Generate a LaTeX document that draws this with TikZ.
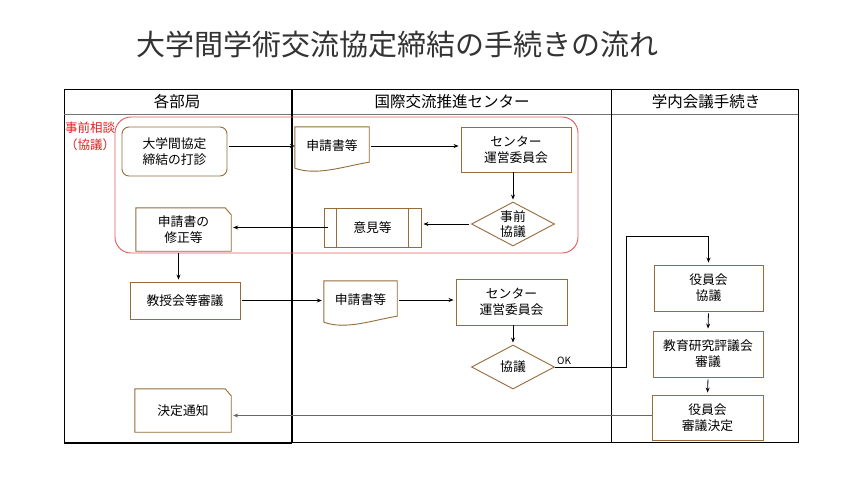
\documentclass[tikz,border=0pt]{standalone}
\usepackage{fontspec}
\newfontfamily\cjk{Noto Sans CJK JP}
\usetikzlibrary{arrows.meta,shapes.geometric,calc}
\definecolor{brd}{RGB}{150,108,58}
\definecolor{redl}{RGB}{228,90,90}
\definecolor{redt}{RGB}{228,30,30}
\begin{document}
\begin{tikzpicture}[x=1pt,y=-1pt,
  txt/.style={font=\cjk\fontsize{12.8}{16}\selectfont, align=center, text=black},
  box/.style={txt, draw=brd, line width=0.9pt, inner sep=0pt},
  plain/.style={txt, draw=none, inner sep=0pt},
  dia/.style={shape=diamond, draw=brd, line width=0.9pt, inner sep=0pt, minimum width=83pt, minimum height=44pt},
  conn/.style={line width=0.8pt, -{Stealth[length=5pt,width=4pt]}, shorten >=2pt, shorten <=2pt},
  hdr/.style={font=\cjk\fontsize{15.5}{18}\selectfont, text=black},
  shp/.style={draw=brd, line width=0.9pt},
  lane/.style={draw=black, line width=0.8pt}
]
\fill[white] (0,0) rectangle (842,487);
\useasboundingbox (0,0) rectangle (842,487);

% title
\node[font=\cjk\fontsize{29}{32}\selectfont, text=black!80] (title) at (397,44) {大学間学術交流協定締結の手続きの流れ};

% swimlanes
\draw[lane] (64,89) rectangle (798,442);
\draw[draw=black!55, line width=0.8pt] (64,114) -- (798,114);
\draw[line width=1.8pt] (292,89) -- (292,443);
\draw[lane, line width=1.4pt] (64,443) -- (292,443);
\draw[lane] (611,89) -- (611,442);
\node[hdr] (h1) at (177,102) {各部局};
\node[hdr] (h2) at (452,102) {国際交流推進センター};
\node[hdr] (h3) at (706,102) {学内会議手続き};

% pre-consultation area
\draw[draw=redl, line width=0.9pt, rounded corners=16pt] (115,117) rectangle (578,253);
\node[font=\cjk\fontsize{12.5}{17}\selectfont, text=redt, align=left, anchor=north west, inner sep=0pt] (pre) at (65,122) {事前相談\\（協議）};

% lane 1 nodes
\node[box, rounded corners=7pt, minimum width=105, minimum height=49] (dashin) at (174.5,151.5) {大学間協定\\締結の打診};
\node[plain, minimum width=95, minimum height=43] (shusei) at (183.5,229.5) {申請書の\\修正等};
\draw[shp] (shusei.south west) -- (shusei.north west) -- ($(shusei.north east)+(-6,0)$) -- ($(shusei.north east)+(0,7)$) -- (shusei.south east) -- cycle;
\node[box, minimum width=110, minimum height=37] (kyoju) at (185,300.5) {教授会等審議};
\node[plain, minimum width=96, minimum height=43] (kettei) at (183,410.5) {決定通知};
\draw[shp] (kettei.south west) -- (kettei.north west) -- ($(kettei.north east)+(-6,0)$) -- ($(kettei.north east)+(0,7)$) -- (kettei.south east) -- cycle;

% lane 2 nodes
\node[plain, minimum width=74, minimum height=38] (doc1) at (332,146) {申請書等};
\draw[shp] ($(doc1.south west)+(0,3)$) -- (doc1.north west) -- (doc1.north east) -- ($(doc1.south east)+(0,-3)$) .. controls +(-25,4) and +(22,8) .. ($(doc1.south west)+(0,3)$);
\node[box, minimum width=110, minimum height=45] (c1) at (516,149.5) {センター\\運営委員会};
\node[dia, label={[txt, inner sep=0pt, font=\cjk\fontsize{12.8}{15}\selectfont]center:{事前\\協議}}] (jz) at (513,224) {};
\node[box, minimum width=97, minimum height=39] (ik) at (372.5,227.5) {意見等};
\draw[shp] ($(ik.north west)+(13,0)$) -- ($(ik.south west)+(13,0)$);
\draw[shp] ($(ik.north east)+(-13,0)$) -- ($(ik.south east)+(-13,0)$);
\node[plain, minimum width=73, minimum height=38] (doc2) at (360.5,300) {申請書等};
\draw[shp] ($(doc2.south west)+(0,3)$) -- (doc2.north west) -- (doc2.north east) -- ($(doc2.south east)+(0,-3)$) .. controls +(-25,4) and +(22,8) .. ($(doc2.south west)+(0,3)$);
\node[box, minimum width=111, minimum height=46] (c2) at (511.5,302) {センター\\運営委員会};
\node[dia, label={[txt, inner sep=0pt]center:協議}] (kyogi) at (513,367) {};

% lane 3 nodes
\node[box, minimum width=109, minimum height=46] (y1) at (708.5,288) {役員会\\協議};
\node[box, minimum width=110, minimum height=46] (hyogi) at (708,354) {教育研究評議会\\審議};
\node[box, minimum width=111, minimum height=45] (y3) at (707.5,417.5) {役員会\\審議決定};

% connectors
\draw[conn, shorten >=0pt] (dashin.east |- doc1.west) -- (doc1.west);
\draw[conn] (doc1.east) -- (doc1.east -| c1.west);
\draw[conn, shorten <=0pt] (c1.south -| jz.north) -- (jz.north);
\draw[conn] (jz.west) -- (jz.west -| ik.east);
\draw[conn, shorten <=-4pt] (ik.west) -- (ik.west -| shusei.east);
\draw[conn] ($(shusei.south)+(-5,0)$) -- ($(shusei.south |- kyoju.north)+(-5,0)$);
\draw[conn] (kyoju.east) -- (kyoju.east -| doc2.west);
\draw[conn] (doc2.east) -- (doc2.east -| c2.west);
\draw[conn, shorten <=0pt] (c2.south -| kyogi.north) -- (kyogi.north);
\coordinate (ok1) at (626,236);
\draw[conn, shorten <=0pt] (kyogi.east) -| (ok1) -| (y1.north);
\node[font=\cjk\fontsize{10}{12}\selectfont, anchor=south west, inner sep=1pt] (ok) at ($(kyogi.east)+(1,-1)$) {OK};
\draw[conn] (y1.south) -- (hyogi.north);
\draw[conn] (hyogi.south) -- (y3.north);
\draw[conn, draw=black!60, shorten <=0pt] ($(y3.west)+(0,-2)$) -- ($(y3.west -| kettei.east)+(0,-2)$);
\end{tikzpicture}
\end{document}
